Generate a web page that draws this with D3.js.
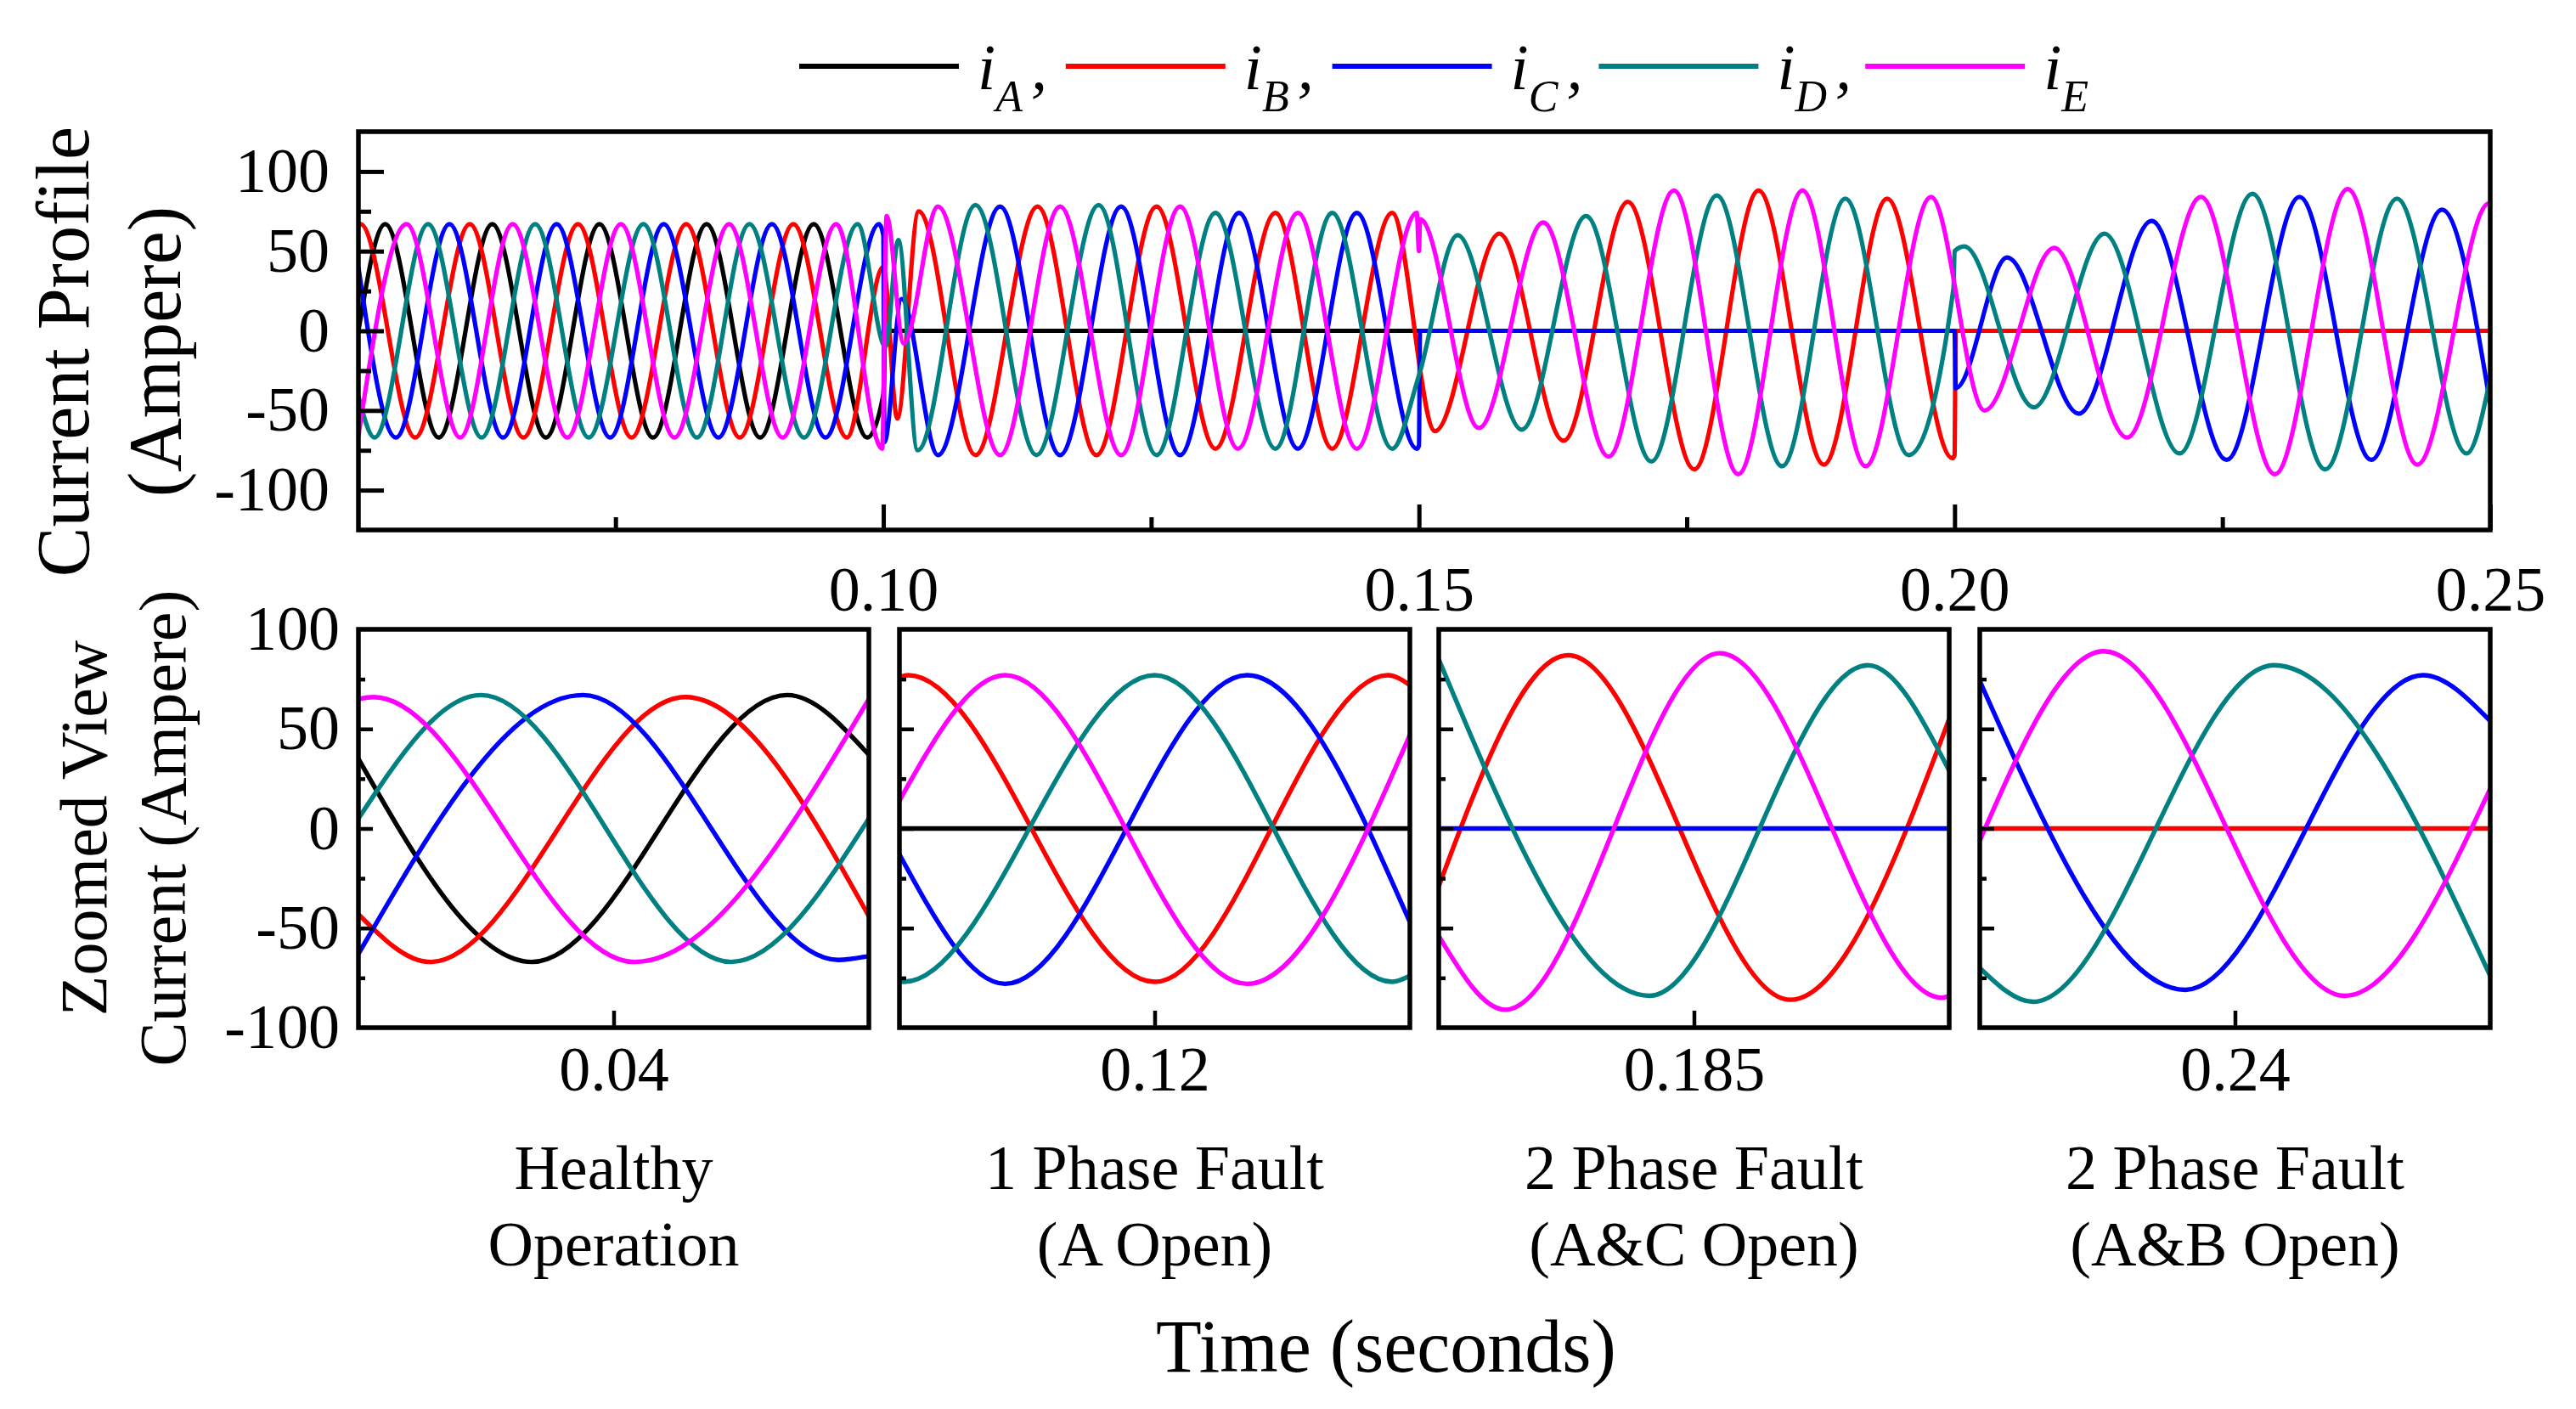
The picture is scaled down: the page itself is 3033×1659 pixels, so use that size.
<!DOCTYPE html>
<html>
<head>
<meta charset="utf-8">
<script src="https://cdn.jsdelivr.net/npm/d3@7"></script>
<style>
  body { margin: 0; background: #fff; }
  svg { display: block; }
</style>
</head>
<body>
<div id="chart"></div>
<script>
// phases and colours
const phases = ["A", "B", "C", "D", "E"]
const phaseColors = ["#000000", "#ff0000", "#0000ff", "#008080", "#ff00ff"]

// top plot: [time, current] turning points
const topA = [[0.051,0],[0.0535,67],[0.0585,-67],[0.0635,67],[0.0685,-67],[0.0735,67],[0.0785,-67],[0.0835,67],[0.0885,-67],[0.0935,67],[0.0985,-67],[0.1000,-40],[0.1002,0],[0.25,0]]
const topB = [[0.051,66],[0.0512,67],[0.0563,-67],[0.0614,67],[0.0664,-67],[0.0715,67],[0.0765,-67],[0.0816,67],[0.0866,-67],[0.0916,67],[0.0966,-67],[0.1000,40],[0.1013,-55],[0.1033,75],[0.1086,-78],[0.1144,78],[0.1199,-78],[0.1255,78],[0.1310,-74],[0.1366,74],[0.1419,-74],[0.1475,74],[0.1515,-63],[0.1575,61],[0.1635,-69],[0.1695,81],[0.1757,-87],[0.1817,88],[0.1878,-84],[0.1937,83],[0.1998,-80],[0.2000,-78],[0.2001,0],[0.25,0]]
const topC = [[0.051,40],[0.0545,-67],[0.0595,67],[0.0645,-67],[0.0695,67],[0.0745,-67],[0.0795,67],[0.0846,-67],[0.0896,67],[0.0946,-67],[0.0996,67],[0.1000,60],[0.1001,-70],[0.1017,20],[0.1051,-78],[0.1109,78],[0.1165,-78],[0.1222,78],[0.1277,-78],[0.1332,74],[0.1387,-74],[0.1442,74],[0.1498,-74],[0.1500,-72],[0.1501,0],[0.2000,0],[0.2001,-36],[0.2049,46],[0.2116,-52],[0.2184,69],[0.2254,-81],[0.2322,84],[0.2389,-81],[0.2455,76],[0.25,-46]]
const topD = [[0.051,-41],[0.0525,-67],[0.0575,67],[0.0625,-67],[0.0675,67],[0.0725,-67],[0.0776,67],[0.0826,-67],[0.0875,67],[0.0926,-67],[0.0976,67],[0.1002,-10],[0.1014,57],[0.1032,-75],[0.1086,79],[0.1143,-78],[0.1201,79],[0.1255,-78],[0.1310,74],[0.1366,-74],[0.1419,74],[0.1475,-74],[0.1500,-28],[0.1536,60],[0.1596,-62],[0.1656,72],[0.1717,-82],[0.1778,85],[0.1839,-85],[0.1898,83],[0.1957,-78],[0.1999,27],[0.2000,50],[0.2009,53],[0.2074,-48],[0.2140,61],[0.2210,-77],[0.2278,86],[0.2346,-87],[0.2413,83],[0.2478,-77],[0.25,-30]]
const topE = [[0.051,-66],[0.0555,67],[0.0605,-67],[0.0654,67],[0.0705,-67],[0.0755,67],[0.0805,-67],[0.0856,67],[0.0906,-67],[0.0956,67],[0.0999,-74],[0.1003,72],[0.1019,-8],[0.1051,78],[0.1109,-78],[0.1165,78],[0.1222,-78],[0.1277,78],[0.1331,-74],[0.1387,74],[0.1442,-74],[0.1498,74],[0.1500,50],[0.1501,70],[0.1556,-61],[0.1616,68],[0.1677,-79],[0.1738,88],[0.1798,-90],[0.1858,88],[0.1917,-85],[0.1978,84],[0.2028,-50],[0.2093,52],[0.2161,-67],[0.2230,84],[0.2299,-90],[0.2367,89],[0.2432,-84],[0.2499,80],[0.25,80]]

const topMajorTicks = [0.10, 0.15, 0.20, 0.25]
const topMinorTicks = [0.075, 0.125, 0.175, 0.225]
const topYTicks = [-100, -50, 0, 50, 100]
const topYMinor = [-75, -25, 25, 75]

// zoomed panels, series in A..E order (empty = not drawn)
const zoomTicks = [0.04, 0.12, 0.185, 0.24]
const zoomDomains = [[0.035, 0.045], [0.1142, 0.1258], [0.1781, 0.1919], [0.2328, 0.2472]]
const zoomTitles = [["Healthy", "Operation"], ["1 Phase Fault", "(A Open)"], ["2 Phase Fault", "(A&C Open)"], ["2 Phase Fault", "(A&B Open)"]]
const healthyZoom = [
  [[0.035,35],[0.0384,-67],[0.0434,67],[0.045,37]],
  [[0.035,-43],[0.0364,-67],[0.0414,66],[0.045,-44]],
  [[0.035,-63],[0.0394,67],[0.0444,-66],[0.045,-64]],
  [[0.035,5],[0.0374,67],[0.0423,-67],[0.045,5]],
  [[0.035,65],[0.0353,66],[0.0404,-67],[0.045,65]]
]
const onePhaseZoom = [
  [[0.1142,0],[0.1258,0]],
  [[0.1142,76],[0.1144,77],[0.1200,-77],[0.1253,77],[0.1258,72]],
  [[0.1142,-13],[0.1166,-78],[0.1221,77],[0.1258,-47]],
  [[0.1142,-76],[0.1143,-77],[0.1200,77],[0.1254,-77],[0.1258,-74]],
  [[0.1142,14],[0.1166,77],[0.1221,-78],[0.1258,47]]
]
const twoPhaseACZoom = [
  [],
  [[0.1781,-29],[0.1816,87],[0.1876,-86],[0.1919,55]],
  [[0.1781,0],[0.1919,0]],
  [[0.1781,85],[0.1838,-84],[0.1897,82],[0.1919,29]],
  [[0.1781,-54],[0.1799,-91],[0.1857,88],[0.1917,-85],[0.1919,-84]]
]
const twoPhaseABZoom = [
  [],
  [[0.2328,0],[0.2472,0]],
  [[0.2328,74],[0.2386,-81],[0.2453,77],[0.2472,54]],
  [[0.2328,-70],[0.2343,-87],[0.2411,82],[0.2472,-74]],
  [[0.2328,-6],[0.2363,89],[0.2431,-84],[0.2472,20]]
]
const zoomSeries = [healthyZoom, onePhaseZoom, twoPhaseACZoom, twoPhaseABZoom]
const zoomYLabels = [-100, -50, 0, 50, 100]
const zoomYMajor = [-50, 0, 50]
const zoomYMinor = [-75, -25, 25, 75]

const serif = "'Liberation Serif', 'Times New Roman', serif"

const svg = d3.select("#chart")
  .append("svg")
  .attr("width", 3033)
  .attr("height", 1659)
  .attr("font-family", serif)

const styleAxis = (g, width, fontSize) => {
  g.attr("font-family", null).attr("font-size", null)
  g.select(".domain").remove()
  g.selectAll(".tick line").attr("stroke", "#000").attr("stroke-width", width)
  g.selectAll(".tick text").attr("fill", "#000").attr("font-size", fontSize).attr("font-family", serif)
}

const curveLine = (x, y) => d3.line()
  .x(d => x(d[0]))
  .y(d => y(d[1]))
  .curve(d3.curveMonotoneX)

// ---------- top plot ----------
const topBox = { left: 422, right: 2932, top: 155, bottom: 624 }
const xTop = d3.scaleLinear().domain([0.051, 0.25]).range([topBox.left, topBox.right])
const yTop = d3.scaleLinear().domain([-125, 125]).range([topBox.bottom, topBox.top])

svg.append("clipPath").attr("id", "clip-top")
  .append("rect")
  .attr("x", topBox.left).attr("y", topBox.top)
  .attr("width", topBox.right - topBox.left).attr("height", topBox.bottom - topBox.top)

const topLine = curveLine(xTop, yTop)
svg.append("g")
  .attr("clip-path", "url(#clip-top)")
  .selectAll("path")
  .data([topA, topB, topC, topD, topE])
  .enter()
  .append("path")
  .attr("d", d => topLine(d))
  .attr("fill", "none")
  .attr("stroke", (d, i) => phaseColors[i])
  .attr("stroke-width", 5.2)
  .attr("stroke-linejoin", "round")

const topX = svg.append("g").attr("transform", `translate(0, ${topBox.bottom})`)
topX.call(d3.axisBottom(xTop).tickValues(topMajorTicks).tickSize(-30).tickPadding(42).tickFormat(d3.format(".2f")))
styleAxis(topX, 5, 74)
const topXMinor = svg.append("g").attr("transform", `translate(0, ${topBox.bottom})`)
topXMinor.call(d3.axisBottom(xTop).tickValues(topMinorTicks).tickSize(-15).tickFormat(""))
styleAxis(topXMinor, 5, 74)

const topY = svg.append("g").attr("transform", `translate(${topBox.left}, 0)`)
topY.call(d3.axisLeft(yTop).tickValues(topYTicks).tickSize(-30).tickPadding(34).tickFormat(d => String(d)))
styleAxis(topY, 5, 74)
const topYM = svg.append("g").attr("transform", `translate(${topBox.left}, 0)`)
topYM.call(d3.axisLeft(yTop).tickValues(topYMinor).tickSize(-15).tickFormat(""))
styleAxis(topYM, 5, 74)

svg.append("rect")
  .attr("x", topBox.left).attr("y", topBox.top)
  .attr("width", topBox.right - topBox.left).attr("height", topBox.bottom - topBox.top)
  .attr("fill", "none").attr("stroke", "#000").attr("stroke-width", 5.5)

// ---------- zoomed panels ----------
const panelLefts = [422, 1059, 1694, 2331]
const panelWidth = 601
const panelTop = 741
const panelBottom = 1210

zoomSeries.forEach((series, p) => {
  const left = panelLefts[p]
  const x = d3.scaleLinear().domain(zoomDomains[p]).range([left, left + panelWidth])
  const y = d3.scaleLinear().domain([-100, 100]).range([panelBottom, panelTop])

  svg.append("clipPath").attr("id", `clip-p${p}`)
    .append("rect")
    .attr("x", left).attr("y", panelTop)
    .attr("width", panelWidth).attr("height", panelBottom - panelTop)

  const pl = curveLine(x, y)
  const drawn = series
    .map((pts, i) => ({ pts, color: phaseColors[i] }))
    .filter(s => s.pts.length > 0)

  svg.append("g")
    .attr("clip-path", `url(#clip-p${p})`)
    .selectAll("path")
    .data(drawn)
    .enter()
    .append("path")
    .attr("d", s => pl(s.pts))
    .attr("fill", "none")
    .attr("stroke", s => s.color)
    .attr("stroke-width", 5.4)

  const gx = svg.append("g").attr("transform", `translate(0, ${panelBottom})`)
  gx.call(d3.axisBottom(x).tickValues([zoomTicks[p]]).tickSize(-20).tickPadding(21).tickFormat(d => String(d)))
  styleAxis(gx, 4.5, 74)

  const gy = svg.append("g").attr("transform", `translate(${left}, 0)`)
  gy.call(d3.axisLeft(y).tickValues(zoomYMajor).tickSize(-17).tickFormat(""))
  styleAxis(gy, 4.5, 74)
  const gym = svg.append("g").attr("transform", `translate(${left}, 0)`)
  gym.call(d3.axisLeft(y).tickValues(zoomYMinor).tickSize(-8).tickFormat(""))
  styleAxis(gym, 4.5, 74)

  if (p === 0) {
    const gl = svg.append("g").attr("transform", `translate(${left}, 0)`)
    gl.call(d3.axisLeft(y).tickValues(zoomYLabels).tickSize(0).tickPadding(22).tickFormat(d => String(d)))
    styleAxis(gl, 0, 74)
  }

  svg.append("rect")
    .attr("x", left).attr("y", panelTop)
    .attr("width", panelWidth).attr("height", panelBottom - panelTop)
    .attr("fill", "none").attr("stroke", "#000").attr("stroke-width", 5.5)

  // state label under the panel
  const label = svg.append("text")
    .attr("text-anchor", "middle")
    .attr("font-size", 74)
  zoomTitles[p].forEach((t, k) => {
    label.append("tspan")
      .attr("x", left + panelWidth / 2)
      .attr("y", 1400 + k * 90)
      .text(t)
  })
})

// ---------- axis titles ----------
svg.append("text")
  .attr("transform", "translate(104, 414) rotate(-90)")
  .attr("text-anchor", "middle").attr("font-size", 88)
  .text("Current Profile")
svg.append("text")
  .attr("transform", "translate(212, 414) rotate(-90)")
  .attr("text-anchor", "middle").attr("font-size", 88)
  .text("(Ampere)")
svg.append("text")
  .attr("transform", "translate(125, 975) rotate(-90)")
  .attr("text-anchor", "middle").attr("font-size", 78)
  .text("Zoomed View")
svg.append("text")
  .attr("transform", "translate(218, 975) rotate(-90)")
  .attr("text-anchor", "middle").attr("font-size", 78)
  .text("Current (Ampere)")
svg.append("text")
  .attr("x", 1632).attr("y", 1615)
  .attr("text-anchor", "middle").attr("font-size", 88)
  .text("Time (seconds)")

// ---------- legend ----------
const legend = svg.append("g")
phases.forEach((ph, i) => {
  const x0 = 941 + i * 313.8
  legend.append("line")
    .attr("x1", x0).attr("x2", x0 + 188)
    .attr("y1", 78).attr("y2", 78)
    .attr("stroke", phaseColors[i]).attr("stroke-width", 6)
  const t = legend.append("text")
    .attr("x", x0 + 210).attr("y", 105)
    .attr("font-style", "italic").attr("font-size", 76)
    .text("i")
  t.append("tspan").attr("dy", 26).attr("font-size", 52).text(ph)
  if (i < phases.length - 1) {
    t.append("tspan").attr("dy", -26).attr("dx", 10).attr("font-size", 76).text(",")
  }
})
</script>
</body>
</html>
